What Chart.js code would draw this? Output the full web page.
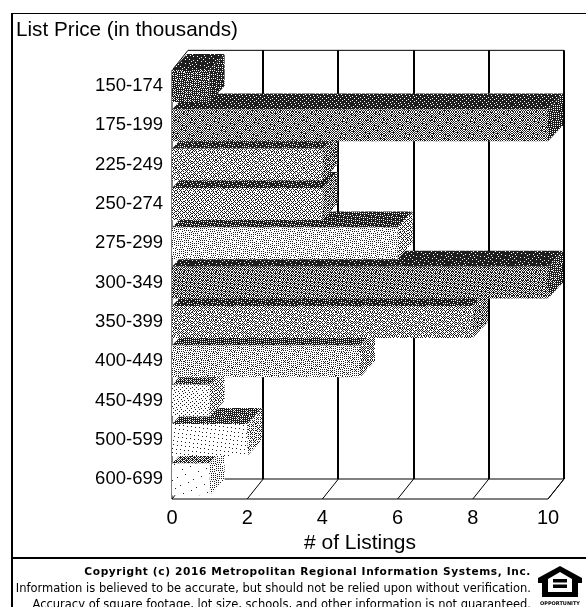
<!DOCTYPE html>
<html>
<head>
<meta charset="utf-8">
<title>List Price</title>
<script src="https://cdn.jsdelivr.net/npm/chart.js@4"></script>
<style>
  html, body { margin: 0; padding: 0; background: #fff; overflow: hidden; }
  #page { position: relative; width: 586px; height: 607px; overflow: hidden; }
  #frameTop { position: absolute; left: 11px; right: 0; top: 13px; height: 1px; background: #000; }
  #frameLeft { position: absolute; left: 11px; top: 13px; width: 2px; bottom: 0; background: #000; }
  #frameSplit { position: absolute; left: 11px; right: 0; top: 557px; height: 2px; background: #000; }
  #chart { position: absolute; left: 0; top: 0; }
  #footer {
    position: absolute; left: 0; top: 563px; width: 531px;
    font: 11.5px/16.5px "DejaVu Sans", sans-serif; color: #000; text-align: right; white-space: nowrap;
  }
  #footer b { font-size: 10.6px; letter-spacing: 0.62px; }
  #logo { position: absolute; left: 536px; top: 564px; }
</style>
</head>
<body>
<div id="page">
  <canvas id="chart" width="586" height="560"></canvas>
  <div id="frameTop"></div>
  <div id="frameLeft"></div>
  <div id="frameSplit"></div>
  <div id="footer">
    <b>Copyright (c) 2016 Metropolitan Regional Information Systems, Inc.</b><br>
    Information is believed to be accurate, but should not be relied upon without verification.<br>
    Accuracy of square footage, lot size, schools, and other information is not guaranteed.
  </div>
  <svg id="logo" width="48" height="43" viewBox="0 0 48 43">
    <path fill="#000" d="M24 2 L46 14 L46 19 L42 19 L42 33 L6 33 L6 19 L2 19 L2 14 Z"/>
    <path fill="#fff" d="M24 8 L36 15 L36 28 L12 28 L12 15 Z"/>
    <rect x="17" y="15" width="14" height="3.5" fill="#000"/>
    <rect x="17" y="20.5" width="14" height="3.5" fill="#000"/>
    <text x="24" y="41" text-anchor="middle" font-family="DejaVu Sans" font-weight="bold" font-size="5">OPPORTUNITY</text>
  </svg>
</div>
<script>
const priceRanges = ['150-174', '175-199', '225-249', '250-274', '275-299', '300-349', '350-399', '400-449', '450-499', '500-599', '600-699'];
const listingCounts = [1, 10, 4, 4, 6, 10, 8, 5, 1, 2, 1];
const listingTicks = [0, 2, 4, 6, 8, 10];

// grey level of each bar's three faces
const frontGreys = [95, 135, 165, 170, 205, 125, 160, 190, 225, 240, 250];
const topGreys = [50, 55, 65, 65, 72, 50, 65, 80, 100, 92, 120];
const sideGreys = [70, 80, 120, 130, 170, 90, 130, 150, 170, 180, 200];

const BAR_DX = 15, BAR_DY = 16;   // bar depth
const WALL_DX = 16, WALL_DY = 20; // back wall offset
const INK = 30, PAPER = 255;      // dither tones

const BAYER = [
  [0, 32, 8, 40, 2, 34, 10, 42],
  [48, 16, 56, 24, 50, 18, 58, 26],
  [12, 44, 4, 36, 14, 46, 6, 38],
  [60, 28, 52, 20, 62, 30, 54, 22],
  [3, 35, 11, 43, 1, 33, 9, 41],
  [51, 19, 59, 27, 49, 17, 57, 25],
  [15, 47, 7, 39, 13, 45, 5, 37],
  [63, 31, 55, 23, 61, 29, 53, 21]
];

// ordered dither for a grey level, cells shifted so the tile looks less regular
function dither(grey) {
  const size = 64;
  const tile = document.createElement('canvas');
  tile.width = tile.height = size;
  const g = tile.getContext('2d');
  const img = g.createImageData(size, size);
  const level = (grey - INK) / (PAPER - INK) * 64;
  for (let y = 0; y < size; y++) {
    for (let x = 0; x < size; x++) {
      const row = (y + (x >> 3) * 3) % 8, col = (x + (y >> 3) * 5) % 8;
      const v = level > BAYER[row][col] ? PAPER : INK;
      const i = (y * size + x) * 4;
      img.data[i] = img.data[i + 1] = img.data[i + 2] = v;
      img.data[i + 3] = 255;
    }
  }
  g.putImageData(img, 0, 0);
  return g.createPattern(tile, 'repeat');
}

function poly(ctx, pts) {
  ctx.beginPath();
  pts.forEach((p, i) => i ? ctx.lineTo(p[0], p[1]) : ctx.moveTo(p[0], p[1]));
  ctx.closePath();
}

// back wall, floor and the top and side faces of the bars
const depth3d = {
  id: 'depth3d',
  beforeDatasetsDraw(chart) {
    const { ctx, scales: { x }, chartArea: area } = chart;
    const wallTop = area.top + 4, floor = area.bottom;
    const left = x.getPixelForValue(0), right = x.getPixelForValue(10);

    ctx.save();
    ctx.strokeStyle = '#000';
    listingTicks.forEach(t => {
      const px = x.getPixelForValue(t);
      ctx.lineWidth = 1;
      ctx.beginPath();
      ctx.moveTo(px, floor);
      ctx.lineTo(px + WALL_DX, floor - WALL_DY);
      ctx.stroke();
      if (t > 0) {
        ctx.lineWidth = 2;
        ctx.beginPath();
        ctx.moveTo(Math.round(px + WALL_DX), floor - WALL_DY);
        ctx.lineTo(Math.round(px + WALL_DX), wallTop - WALL_DY);
        ctx.stroke();
      }
    });
    ctx.lineWidth = 1;
    ctx.beginPath();
    ctx.moveTo(left, floor);
    ctx.lineTo(right, floor);
    ctx.lineTo(right + WALL_DX, floor - WALL_DY);
    ctx.lineTo(left + WALL_DX, floor - WALL_DY);
    ctx.moveTo(left, floor);
    ctx.lineTo(left, wallTop);
    ctx.lineTo(left + WALL_DX, wallTop - WALL_DY);
    ctx.lineTo(right + WALL_DX, wallTop - WALL_DY);
    ctx.stroke();

    // lower bars first so the upper ones overlap them
    const bars = chart.getDatasetMeta(0).data;
    for (let i = bars.length - 1; i >= 0; i--) {
      const b = bars[i];
      const top = b.y - b.height / 2, bottom = b.y + b.height / 2;
      ctx.fillStyle = dither(topGreys[i]);
      poly(ctx, [[left, top], [left + BAR_DX, top - BAR_DY], [b.x + BAR_DX, top - BAR_DY], [b.x, top]]);
      ctx.fill();
      ctx.fillStyle = dither(sideGreys[i]);
      poly(ctx, [[b.x, top], [b.x + BAR_DX, top - BAR_DY], [b.x + BAR_DX, bottom - BAR_DY], [b.x, bottom]]);
      ctx.fill();
    }
    ctx.restore();
  }
};

const fontFamily = '"Liberation Sans", Arial, sans-serif';

new Chart(document.getElementById('chart').getContext('2d'), {
  type: 'bar',
  data: {
    labels: priceRanges,
    datasets: [{
      data: listingCounts,
      backgroundColor: frontGreys.map(dither),
      borderWidth: 0,
      categoryPercentage: 1,
      barPercentage: 0.81
    }]
  },
  plugins: [depth3d],
  options: {
    indexAxis: 'y',
    responsive: false,
    animation: false,
    layout: { padding: { left: 16, right: 38, top: 0, bottom: 0 } },
    plugins: {
      legend: { display: false },
      tooltip: { enabled: false },
      title: {
        display: true,
        text: 'List Price (in thousands)',
        align: 'start',
        color: '#000',
        font: { family: fontFamily, size: 20.7, weight: 'normal' },
        padding: { top: 18, bottom: 23.5 }
      }
    },
    scales: {
      x: {
        type: 'linear',
        min: 0,
        max: 10,
        grid: { display: false, drawTicks: false },
        border: { display: false },
        afterBuildTicks(axis) { axis.ticks = listingTicks.map(value => ({ value })); },
        afterFit(axis) { axis.height = 61; },
        ticks: { color: '#000', font: { family: fontFamily, size: 20 }, padding: 7, maxRotation: 0 },
        title: {
          display: true,
          text: '# of Listings',
          color: '#000',
          font: { family: fontFamily, size: 21 },
          padding: { top: 0, bottom: 4 }
        }
      },
      y: {
        grid: { display: false, drawTicks: false },
        border: { display: false },
        afterFit(axis) { axis.width = 156; },
        ticks: { color: '#000', font: { family: fontFamily, size: 18.5 }, padding: 9, autoSkip: false }
      }
    }
  }
});
</script>
</body>
</html>
